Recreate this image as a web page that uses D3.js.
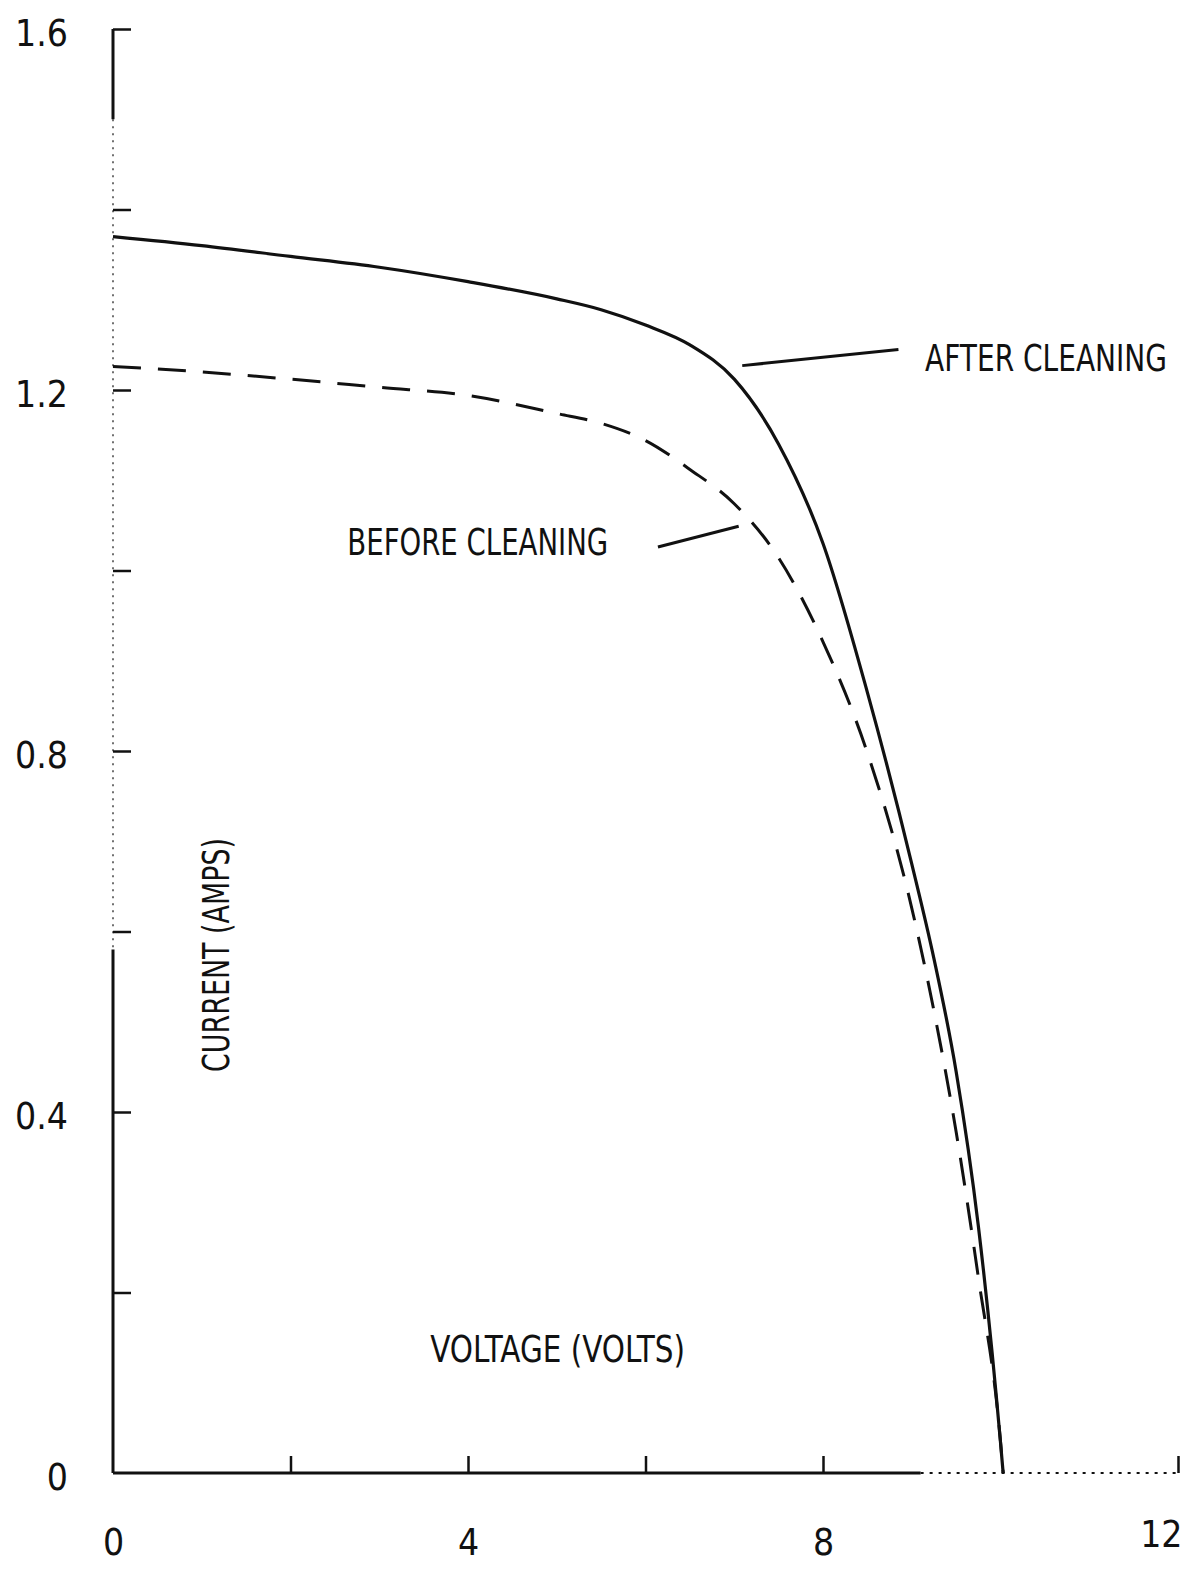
<!DOCTYPE html>
<html>
<head>
<meta charset="utf-8">
<script src="https://cdn.jsdelivr.net/npm/d3@7"></script>
<style>
  body { margin: 0; background: #fff; }
  svg { display: block; }
  text { font-family: "Liberation Sans Narrow", "DejaVu Sans Condensed", "Roboto Condensed", sans-serif; fill: #111; }
</style>
</head>
<body>
<div id="chart"></div>
<script>
// voltage samples (volts) and the two I-V curves (amps)
var voltage        = [0, 1, 2, 3, 4, 5, 5.5, 6, 6.5, 7, 7.5, 8, 8.5, 9, 9.25, 9.5, 9.75, 10, 10.03];
var afterCleaning  = [1.370, 1.360, 1.348, 1.336, 1.320, 1.301, 1.289, 1.272, 1.250, 1.212, 1.140, 1.030, 0.865, 0.675, 0.570, 0.445, 0.274, 0.034, 0];
var beforeCleaning = [1.226, 1.220, 1.212, 1.203, 1.194, 1.174, 1.163, 1.144, 1.112, 1.074, 1.014, 0.921, 0.798, 0.626, 0.512, 0.378, 0.217, 0.035, 0];

// axis ticks and labels
var xTickValues  = [2, 4, 6, 8, 12];
var xLabelValues = [0, 4, 8, 12];
var xLabelText   = ["0", "4", "8", "12"];
var yTickValues  = [0.2, 0.4, 0.6, 0.8, 1.0, 1.2, 1.4, 1.6];
var yLabelValues = [0, 0.4, 0.8, 1.2, 1.6];
var yLabelText   = ["0", "0.4", "0.8", "1.2", "1.6"];

function init() {
    const width = 1197;
    const height = 1573;

    var x = d3.scaleLinear().domain([0, 12]).range([113, 1178]);
    var y = d3.scaleLinear().domain([0, 1.6]).range([1473, 29]);

    var svg = d3.select("#chart")
        .append("svg")
        .attr("width", width)
        .attr("height", height);

    svg.append("rect").attr("width", width).attr("height", height).attr("fill", "#fff");

    // axis lines: solid where the scan is solid, faint dots where it fades
    var yAxisParts = [
        { from: 1.6, to: 1.5, dash: null, w: 3 },
        { from: 1.5, to: 0.58, dash: "2,5", w: 1.2 },
        { from: 0.58, to: 0, dash: null, w: 3 }
    ];
    svg.selectAll("line.yaxis")
        .data(yAxisParts)
        .enter()
        .append("line")
        .attr("class", "yaxis")
        .attr("x1", x(0)).attr("x2", x(0))
        .attr("y1", d => y(d.from)).attr("y2", d => y(d.to))
        .attr("stroke", "#111")
        .attr("stroke-width", d => d.w)
        .attr("stroke-dasharray", d => d.dash);

    var xAxisParts = [
        { from: 0, to: 9.1, dash: null, w: 3 },
        { from: 9.1, to: 12, dash: "3,6", w: 2 }
    ];
    svg.selectAll("line.xaxis")
        .data(xAxisParts)
        .enter()
        .append("line")
        .attr("class", "xaxis")
        .attr("x1", d => x(d.from)).attr("x2", d => x(d.to))
        .attr("y1", y(0)).attr("y2", y(0))
        .attr("stroke", "#111")
        .attr("stroke-width", d => d.w)
        .attr("stroke-dasharray", d => d.dash);

    // tick marks pointing into the plot
    var yTicks = svg.append("g")
        .attr("transform", `translate(${x(0)},0)`)
        .call(d3.axisLeft(y).tickValues(yTickValues).tickSizeInner(-18).tickSizeOuter(0).tickFormat(""));
    yTicks.select(".domain").remove();
    yTicks.selectAll("line").attr("stroke", "#111").attr("stroke-width", 2.5);

    var xTicks = svg.append("g")
        .attr("transform", `translate(0,${y(0)})`)
        .call(d3.axisBottom(x).tickValues(xTickValues).tickSizeInner(-17).tickSizeOuter(0).tickFormat(""));
    xTicks.select(".domain").remove();
    xTicks.selectAll("line").attr("stroke", "#111").attr("stroke-width", 2.5);

    // tick labels
    var yLabels = svg.append("g")
        .attr("transform", `translate(${x(0)},5)`)
        .call(d3.axisLeft(y).tickValues(yLabelValues).tickSize(0).tickPadding(45)
            .tickFormat((d, i) => yLabelText[i]));
    yLabels.select(".domain").remove();
    yLabels.attr("font-size", 37);

    var xLabels = svg.append("g")
        .attr("transform", `translate(0,${y(0)})`)
        .call(d3.axisBottom(x).tickValues(xLabelValues).tickSize(0).tickPadding(0)
            .tickFormat((d, i) => xLabelText[i]));
    xLabels.select(".domain").remove();
    xLabels.attr("font-size", 37);
    xLabels.selectAll("text")
        .attr("y", 0)
        .attr("dy", 82);
    // the last label sits left of its tick, inside the page
    xLabels.selectAll("text")
        .filter(d => d === 12)
        .attr("text-anchor", "end")
        .attr("dx", 4)
        .attr("dy", 74);

    // the two curves
    var line = d3.line()
        .x((d, i) => x(voltage[i]))
        .y(d => y(d))
        .curve(d3.curveMonotoneX);

    svg.append("path")
        .datum(afterCleaning)
        .attr("d", line)
        .attr("fill", "none")
        .attr("stroke", "#111")
        .attr("stroke-width", 3.2);

    svg.append("path")
        .datum(beforeCleaning)
        .attr("d", line)
        .attr("fill", "none")
        .attr("stroke", "#111")
        .attr("stroke-width", 3)
        .attr("stroke-dasharray", "28,17");

    // narrow lettering: draw at full size, then squeeze to the wanted width
    function squeezed(str, px, py, len, rot, anchor) {
        var t = svg.append("text")
            .attr("font-size", 38)
            .attr("text-anchor", anchor)
            .text(str);
        var natural = t.node().getComputedTextLength();
        var sx = Math.min(1, len / natural);
        t.attr("transform", `translate(${px},${py}) rotate(${rot}) scale(${sx},1)`);
        return t;
    }

    // labels with leader lines (in data units)
    var notes = [
        { text: "AFTER CLEANING", v: 9.15, i: 1.221, len: 242, lead: [[7.09, 1.227], [8.85, 1.245]] },
        { text: "BEFORE CLEANING", v: 2.64, i: 1.017, len: 261, lead: [[6.14, 1.026], [7.05, 1.049]] }
    ];
    notes.forEach(n => {
        svg.append("line")
            .attr("x1", x(n.lead[0][0])).attr("y1", y(n.lead[0][1]))
            .attr("x2", x(n.lead[1][0])).attr("y2", y(n.lead[1][1]))
            .attr("stroke", "#111")
            .attr("stroke-width", 3);
        squeezed(n.text, x(n.v), y(n.i), n.len, 0, "start");
    });

    // axis titles, placed inside the frame as in the original
    squeezed("CURRENT (AMPS)", x(1.31), y(0.574), 234, -90, "middle");
    squeezed("VOLTAGE (VOLTS)", x(5.01), y(0.123), 255, 0, "middle");
}

init();
</script>
</body>
</html>
